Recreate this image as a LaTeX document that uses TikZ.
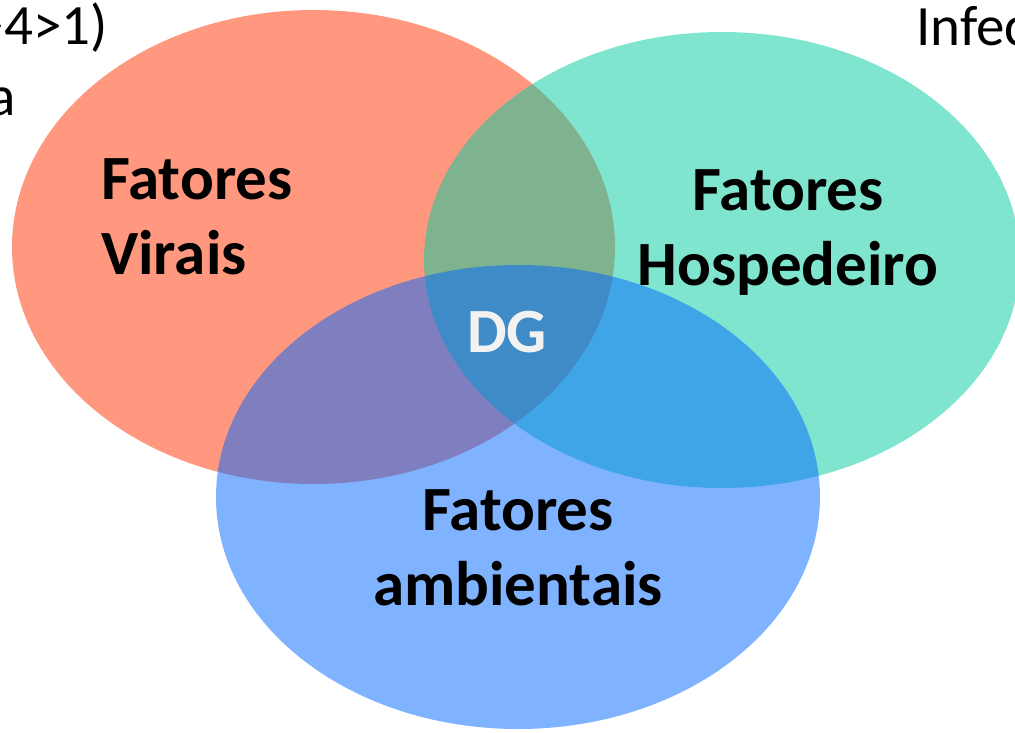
\documentclass[tikz,border=0pt]{standalone}
\usepackage{fontspec}
\setmainfont{Carlito}
\definecolor{cred}{RGB}{255,51,0}
\definecolor{cgreen}{RGB}{0,204,160}
\definecolor{cblue}{RGB}{0,102,255}
\definecolor{dgwhite}{RGB}{242,242,242}
\tikzset{
  circ/.style={fill opacity=0.5, draw=none},
  lbl/.style={font=\fontsize{63}{75}\selectfont\bfseries, text=black, inner sep=0pt, align=center},
  side/.style={font=\fontsize{57}{68}\selectfont, text=black, inner sep=0pt}
}
\begin{document}
\begin{tikzpicture}[x=1pt,y=-1pt]
\useasboundingbox (0,0) rectangle (1015,732);
\clip (0,0) rectangle (1015,732);
\fill[white] (0,0) rectangle (1015,732);
\fill[circ, cred] (313.5,247) ellipse [x radius=301.5, y radius=237];
\fill[circ, cgreen] (722,260) ellipse [x radius=298, y radius=228];
\fill[circ, cblue] (518,497) ellipse [x radius=302, y radius=232];
\node[lbl, align=left, anchor=base west] (vir) at (101,274) {Fatores\\Virais};
\node[lbl, anchor=base] (hos) at (788,285) {Fatores\\Hospedeiro};
\node[lbl, anchor=base] (amb) at (518,605) {Fatores\\ambientais};
\node[lbl, text=dgwhite, anchor=base] (dg) at (507,352) {DG};
\node[side, anchor=base east] (t1) at (108,44) {>4>1)};
\node[side, anchor=base east] (t2) at (16,115) {a};
\node[side, anchor=base west] (t3) at (916,45) {Infec};
\end{tikzpicture}
\end{document}
